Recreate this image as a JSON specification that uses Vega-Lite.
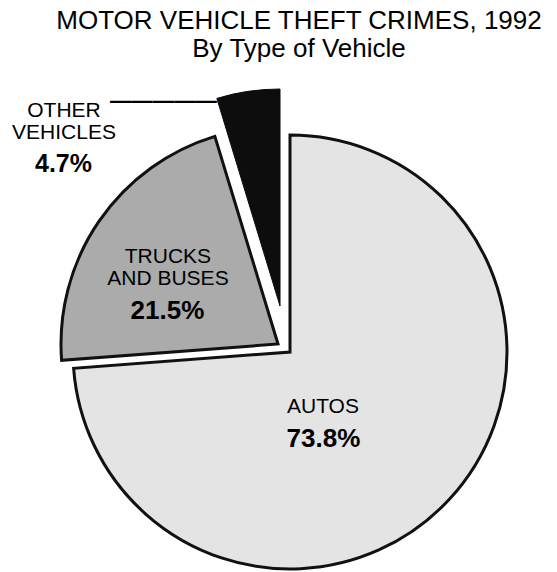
{
  "$schema": "https://vega.github.io/schema/vega-lite/v6.json",
  "width": 434,
  "height": 434,
  "autosize": "none",
  "padding": {"left": 73, "top": 135, "right": 50, "bottom": 3},
  "background": "white",
  "config": {"view": {"stroke": null}},
  "title": {
    "text": "MOTOR VEHICLE THEFT CRIMES, 1992",
    "subtitle": "By Type of Vehicle",
    "font": "Liberation Sans",
    "fontSize": 26,
    "fontWeight": "normal",
    "color": "black",
    "subtitleFont": "Liberation Sans",
    "subtitleFontSize": 26,
    "subtitleColor": "black",
    "subtitlePadding": 2,
    "anchor": "middle",
    "dx": 9,
    "offset": 25
  },
  "data": {
    "values": [
      {"vehicle": "AUTOS", "name": "AUTOS", "share": 0.738},
      {"vehicle": "TRUCKS", "name": "TRUCKS\nAND BUSES", "share": 0.215},
      {"vehicle": "OTHER", "name": "OTHER\nVEHICLES", "share": 0.047}
    ]
  },
  "encoding": {
    "theta": {"field": "share", "type": "quantitative", "stack": true},
    "order": {"field": "share", "type": "quantitative", "sort": "descending"}
  },
  "layer": [
    {
      "mark": {"type": "arc", "fill": "#e4e4e4", "stroke": "#111111", "strokeWidth": 3},
      "encoding": {"opacity": {"condition": {"test": "datum.vehicle === 'AUTOS'", "value": 1}, "value": 0}}
    },
    {
      "mark": {"type": "arc", "fill": "#ababab", "stroke": "#111111", "strokeWidth": 3, "xOffset": -12, "yOffset": -8},
      "encoding": {"opacity": {"condition": {"test": "datum.vehicle === 'TRUCKS'", "value": 1}, "value": 0}}
    },
    {
      "mark": {"type": "arc", "fill": "#0d0d0d", "stroke": "#0d0d0d", "strokeWidth": 1, "xOffset": -10, "yOffset": -46},
      "encoding": {"opacity": {"condition": {"test": "datum.vehicle === 'OTHER'", "value": 1}, "value": 0}}
    },
    {
      "mark": {"type": "text", "radius": 80, "font": "Liberation Sans", "fontSize": 21, "align": "center", "baseline": "alphabetic", "color": "black", "dx": -25.7, "dy": 6.7},
      "encoding": {"text": {"field": "name"}, "opacity": {"condition": {"test": "datum.vehicle === 'AUTOS'", "value": 1}, "value": 0}}
    },
    {
      "mark": {"type": "text", "radius": 80, "font": "Liberation Sans", "fontSize": 26, "fontWeight": "bold", "align": "center", "baseline": "alphabetic", "color": "black", "dx": -25.2, "dy": 40.7},
      "encoding": {"text": {"field": "share", "type": "quantitative", "format": ".1%"}, "opacity": {"condition": {"test": "datum.vehicle === 'AUTOS'", "value": 1}, "value": 0}}
    },
    {
      "mark": {"type": "text", "radius": 130, "font": "Liberation Sans", "fontSize": 21, "align": "center", "baseline": "alphabetic", "lineBreak": "\n", "lineHeight": 22, "color": "black", "dx": -14.75, "dy": -15.55},
      "encoding": {"text": {"field": "name"}, "opacity": {"condition": {"test": "datum.vehicle === 'TRUCKS'", "value": 1}, "value": 0}}
    },
    {
      "mark": {"type": "text", "radius": 130, "font": "Liberation Sans", "fontSize": 26, "fontWeight": "bold", "align": "center", "baseline": "alphabetic", "color": "black", "dx": -15.25, "dy": 40.45},
      "encoding": {"text": {"field": "share", "type": "quantitative", "format": ".1%"}, "opacity": {"condition": {"test": "datum.vehicle === 'TRUCKS'", "value": 1}, "value": 0}}
    },
    {
      "mark": {"type": "text", "radius": 200, "font": "Liberation Sans", "fontSize": 21, "align": "center", "baseline": "alphabetic", "lineBreak": "\n", "lineHeight": 22, "color": "black", "dx": -196.6, "dy": -37.2},
      "encoding": {"text": {"field": "name"}, "opacity": {"condition": {"test": "datum.vehicle === 'OTHER'", "value": 1}, "value": 0}}
    },
    {
      "mark": {"type": "text", "radius": 200, "font": "Liberation Sans", "fontSize": 25, "fontWeight": "bold", "align": "center", "baseline": "alphabetic", "color": "black", "dx": -197.1, "dy": 17.8},
      "encoding": {"text": {"field": "share", "type": "quantitative", "format": ".1%"}, "opacity": {"condition": {"test": "datum.vehicle === 'OTHER'", "value": 1}, "value": 0}}
    },
    {
      "mark": {"type": "text", "radius": 200, "font": "Liberation Sans", "fontSize": 21.4, "fontWeight": "bold", "align": "left", "baseline": "alphabetic", "color": "black", "dx": -150.6, "dy": -46.2},
      "encoding": {"text": {"value": "—————"}, "opacity": {"condition": {"test": "datum.vehicle === 'OTHER'", "value": 1}, "value": 0}}
    }
  ]
}
